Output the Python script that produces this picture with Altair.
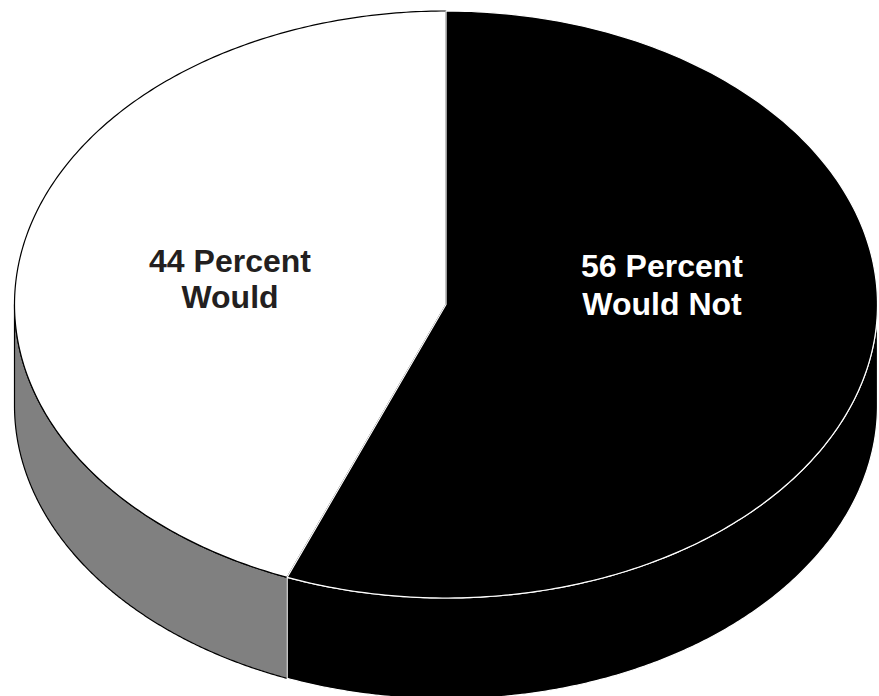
import numpy as np
import pandas as pd
import altair as alt

# ---- data -------------------------------------------------------------
categories = ["Would Not", "Would"]
values = [56, 44]
label_text = ["56 Percent\nWould Not", "44 Percent\nWould"]

# ---- styling / layout -------------------------------------------------
top_colors = ["#000000", "#ffffff"]
side_colors = ["#000000", "#808080"]
edge_colors = ["#ffffff", "#000000"]
text_colors = ["#ffffff", "#231f20"]

W, H = 879, 696
CX, CY, RX, RY, DEPTH = 446, 304.5, 431.5, 293.5, 101

# ---- geometry of the tilted pie (derived from the values) -------------
total = float(sum(values))
top_rows, side_rows = [], []
start = 0.0
for cat, v in zip(categories, values):
    a0 = start / total * 360.0
    a1 = (start + v) / total * 360.0
    ts = np.radians(np.linspace(a0, a1, 240))
    top_rows.append({"slice": cat, "i": 0, "x": CX, "y": CY})
    for k, t in enumerate(ts):
        top_rows.append({"slice": cat, "i": k + 1,
                         "x": CX + RX * np.sin(t), "y": CY - RY * np.cos(t)})
    s0, s1 = max(a0, 90.0), min(a1, 270.0)
    if s0 < s1:
        for k, t in enumerate(np.radians(np.linspace(s0, s1, 240))):
            y = CY - RY * np.cos(t)
            side_rows.append({"slice": cat, "i": k, "x": CX + RX * np.sin(t),
                              "y": y, "y2": y + DEPTH})
    start += v

top_df = pd.DataFrame(top_rows)
side_df = pd.DataFrame(side_rows)

xs = alt.Scale(domain=[0, W], nice=False, zero=False)
ys = alt.Scale(domain=[0, H], nice=False, zero=False, reverse=True)


def side_layer(idx):
    cat = categories[idx]
    return alt.Chart(side_df).transform_filter(
        alt.datum.slice == cat
    ).mark_area(strokeWidth=1.2, strokeJoin="round",
                fill=side_colors[idx], stroke=edge_colors[idx],
                fillOpacity=1).encode(
        x=alt.X("x:Q", scale=xs, axis=None),
        y=alt.Y("y:Q", scale=ys, axis=None, stack=None),
        y2="y2:Q",
    )


def top_layer(idx):
    cat = categories[idx]
    return alt.Chart(top_df).transform_filter(
        alt.datum.slice == cat
    ).mark_line(interpolate="linear-closed", strokeWidth=1.2,
                strokeJoin="round", fill=top_colors[idx],
                stroke=edge_colors[idx]).encode(
        x=alt.X("x:Q", scale=xs, axis=None),
        y=alt.Y("y:Q", scale=ys, axis=None),
        order="i:Q",
    )


def text_layer(idx, px, py, lh):
    df = pd.DataFrame({"t": [label_text[idx]]})
    return alt.Chart(df).mark_text(
        font="Liberation Sans, Arial, sans-serif", fontSize=32,
        fontWeight="bold", align="center", baseline="alphabetic",
        lineBreak="\n", lineHeight=lh, color=text_colors[idx],
    ).encode(text="t:N", x=alt.value(px), y=alt.value(py))


chart = alt.layer(
    side_layer(1),
    side_layer(0),
    top_layer(1),
    top_layer(0),
    text_layer(1, 230, 272, 36),
    text_layer(0, 662, 277, 38),
).properties(
    width=W, height=H,
    autosize=alt.AutoSizeParams(type="none"),
    padding=0,
).configure_view(stroke=None)

chart.save("out.html", embed_options={"renderer": "svg", "actions": False})
